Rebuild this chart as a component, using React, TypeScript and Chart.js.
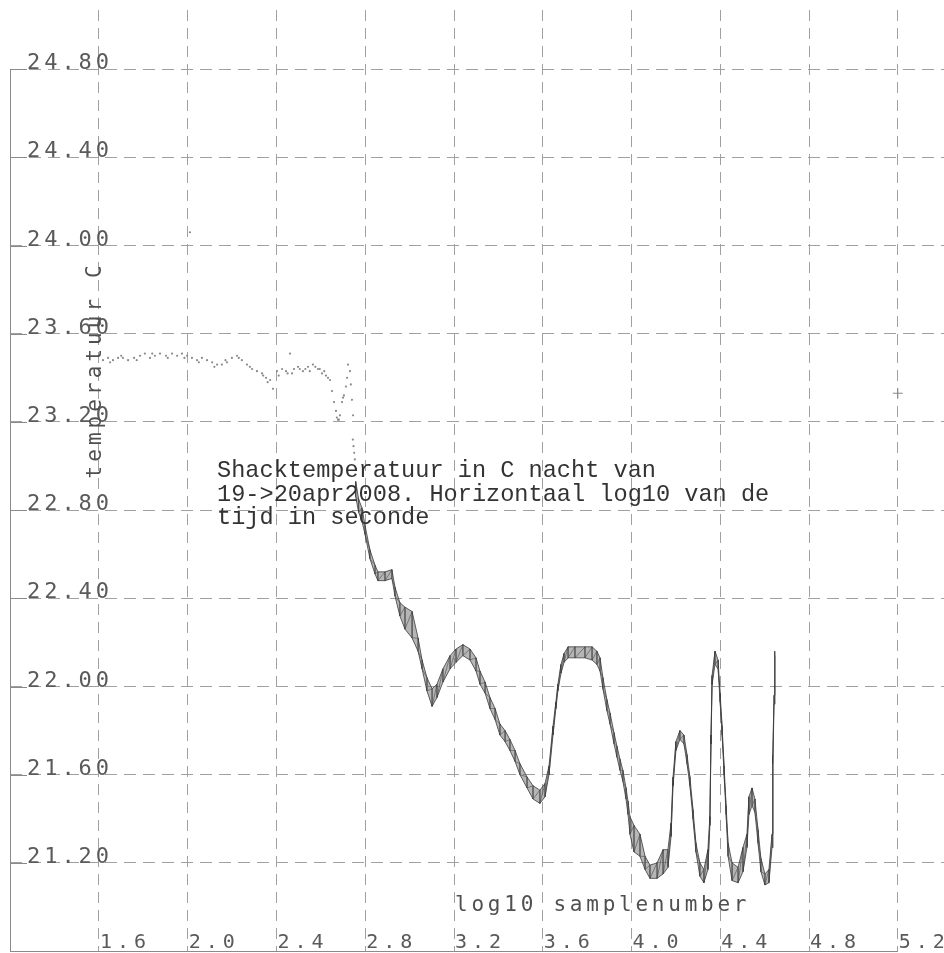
import React, { useEffect, useRef } from 'react';
import { Chart, registerables } from 'chart.js';

Chart.register(...registerables);

// ---- axis ticks ----
const xTickValues = [1.6, 2.0, 2.4, 2.8, 3.2, 3.6, 4.0, 4.4, 4.8, 5.2];
const xTickLabels = ['1.6', '2.0', '2.4', '2.8', '3.2', '3.6', '4.0', '4.4', '4.8', '5.2'];
const yTickValues = [21.2, 21.6, 22.0, 22.4, 22.8, 23.2, 23.6, 24.0, 24.4, 24.8];
const yTickLabels = ['21.20', '21.60', '22.00', '22.40', '22.80', '23.20', '23.60', '24.00', '24.40', '24.80'];

// ---- early, sparse samples (log10 sample number, temperature C) ----
const earlyLogN = [
  1.618, 1.641, 1.663, 1.686, 1.708, 1.731, 1.758, 1.785, 1.807, 1.830, 1.852, 1.875, 1.902, 1.929,
  1.952, 1.974, 1.997, 2.010, 2.019, 2.042, 2.064, 2.087, 2.110, 2.132, 2.154, 2.177, 2.199, 2.222,
  2.244, 2.267, 2.290, 2.312, 2.335, 2.353, 2.371, 2.384, 2.402, 2.425, 2.443, 2.461, 2.479, 2.497,
  2.519, 2.542, 2.564, 2.587, 2.605, 2.623, 2.641, 2.650, 2.659, 2.668, 2.677, 2.686, 2.695, 2.704,
  2.713, 2.722, 2.731, 2.740, 2.745,
  1.650, 1.700, 1.770, 1.840, 1.910, 1.985, 2.050, 2.120, 2.170, 2.230, 2.280, 2.340, 2.360, 2.410,
  2.450, 2.470, 2.505, 2.530, 2.550, 2.575, 2.595, 2.615, 2.632, 2.672, 2.681, 2.700, 2.718, 2.735,
  2.744, 2.747, 2.750, 2.753,
];
const earlyTemp = [
  23.48, 23.49, 23.48, 23.49, 23.49, 23.48, 23.49, 23.50, 23.51, 23.49, 23.50, 23.51, 23.50, 23.51,
  23.50, 23.51, 23.50, 24.06, 23.49, 23.48, 23.49, 23.48, 23.47, 23.46, 23.46, 23.47, 23.49, 23.50,
  23.48, 23.46, 23.44, 23.43, 23.42, 23.40, 23.39, 23.35, 23.43, 23.44, 23.43, 23.51, 23.44, 23.45,
  23.43, 23.45, 23.46, 23.44, 23.42, 23.41, 23.39, 23.34, 23.29, 23.25, 23.21, 23.23, 23.29, 23.32,
  23.36, 23.46, 23.43, 23.30, 23.23,
  23.47, 23.50, 23.48, 23.51, 23.49, 23.49, 23.47, 23.45, 23.48, 23.49, 23.45, 23.41, 23.38, 23.41,
  23.42, 23.42, 23.44, 23.44, 23.43, 23.45, 23.44, 23.43, 23.40, 23.22, 23.21, 23.31, 23.40, 23.37,
  23.12, 23.09, 23.06, 23.03,
];

// ---- dense samples: noise band, upper and lower edge ----
const bandLogN = [
  2.757, 2.770, 2.785, 2.799, 2.821, 2.844, 2.857, 2.889, 2.920, 2.934, 2.956, 2.979, 3.011, 3.038,
  3.056, 3.078, 3.101, 3.123, 3.150, 3.182, 3.209, 3.240, 3.272, 3.299, 3.317, 3.340, 3.362, 3.385,
  3.407, 3.430, 3.452, 3.475, 3.497, 3.529, 3.556, 3.587, 3.610, 3.628, 3.646, 3.659, 3.668, 3.682,
  3.696, 3.714, 3.745, 3.790, 3.822, 3.844, 3.858, 3.871, 3.889, 3.903, 3.921, 3.934, 3.948, 3.961,
  3.975, 3.984, 3.993, 4.011, 4.038, 4.061, 4.083, 4.115, 4.142, 4.164, 4.178, 4.187, 4.200, 4.218,
  4.236, 4.250, 4.263, 4.277, 4.290, 4.308, 4.326, 4.344, 4.353, 4.358, 4.363, 4.376, 4.390, 4.399,
  4.408, 4.417, 4.426, 4.435, 4.453, 4.480, 4.502, 4.520, 4.529, 4.543, 4.556, 4.570, 4.583, 4.601,
  4.619, 4.633, 4.637, 4.642, 4.646,
];
const bandHigh = [
  22.93, 22.85, 22.81, 22.73, 22.62, 22.55, 22.52, 22.52, 22.53, 22.45, 22.38, 22.36, 22.34, 22.22,
  22.12, 22.04, 21.99, 22.01, 22.08, 22.14, 22.17, 22.19, 22.17, 22.13, 22.07, 22.02, 21.95, 21.90,
  21.83, 21.80, 21.76, 21.71, 21.65, 21.59, 21.55, 21.53, 21.56, 21.64, 21.82, 21.93, 22.01, 22.10,
  22.15, 22.18, 22.18, 22.18, 22.18, 22.16, 22.13, 22.04, 21.94, 21.88, 21.79, 21.73, 21.67, 21.62,
  21.54, 21.48, 21.41, 21.37, 21.33, 21.23, 21.19, 21.20, 21.26, 21.26, 21.38, 21.59, 21.75, 21.80,
  21.78, 21.69, 21.59, 21.44, 21.29, 21.20, 21.17, 21.26, 21.41, 21.78, 22.05, 22.16, 22.12, 21.97,
  21.82, 21.64, 21.46, 21.29, 21.20, 21.18, 21.27, 21.33, 21.50, 21.54, 21.49, 21.35, 21.22, 21.15,
  21.17, 21.33, 21.69, 21.96, 22.16,
];
const bandLow = [
  22.86, 22.79, 22.75, 22.69, 22.58, 22.51, 22.48, 22.48, 22.49, 22.41, 22.32, 22.26, 22.22, 22.16,
  22.08, 21.98, 21.91, 21.95, 22.02, 22.08, 22.11, 22.14, 22.12, 22.07, 22.01, 21.97, 21.90, 21.85,
  21.78, 21.75, 21.71, 21.66, 21.60, 21.54, 21.49, 21.47, 21.50, 21.60, 21.78, 21.90, 21.98, 22.06,
  22.11, 22.13, 22.13, 22.13, 22.12, 22.10, 22.07, 21.99, 21.89, 21.83, 21.74, 21.68, 21.62, 21.57,
  21.49, 21.42, 21.33, 21.25, 21.23, 21.17, 21.13, 21.13, 21.15, 21.18, 21.32, 21.55, 21.71, 21.76,
  21.74, 21.65, 21.55, 21.40, 21.25, 21.14, 21.11, 21.17, 21.37, 21.74, 22.01, 22.10, 22.08, 21.93,
  21.78, 21.60, 21.42, 21.23, 21.12, 21.11, 21.16, 21.27, 21.42, 21.46, 21.43, 21.29, 21.16, 21.10,
  21.11, 21.27, 21.65, 21.92, 22.14,
];

// ---- single cross marker at the right ----
const markerLogN = [5.2];
const markerTemp = [23.33];

// ---- texts ----
const annotationLines = [
  'Shacktemperatuur in C nacht van',
  '19->20apr2008. Horizontaal log10 van de',
  'tijd in seconde',
];
const xAxisTitle = 'log10 samplenumber';
const yAxisTitle = 'temperatuur C';

const X_MIN = 1.199;
const X_MAX = 5.408;
const Y_MIN = 20.796;
const Y_MAX = 25.068;

function drawSpaced(ctx: CanvasRenderingContext2D, text: string, x: number, y: number, advance: number) {
  for (let i = 0; i < text.length; i++) {
    ctx.fillText(text[i], x + i * advance, y);
  }
}

export default function App() {
  const ref = useRef<HTMLCanvasElement>(null);

  useEffect(() => {
    const canvas = ref.current;
    if (!canvas) return;

    const early = earlyLogN.map((x, i) => ({ x, y: earlyTemp[i] }));
    const high = bandLogN.map((x, i) => ({ x, y: bandHigh[i] }));
    const low = bandLogN.map((x, i) => ({ x, y: bandLow[i] }));
    const zig: { x: number; y: number }[] = [];
    bandLogN.forEach((x, i) => {
      zig.push({ x, y: bandHigh[i] });
      zig.push({ x, y: bandLow[i] });
    });
    const marker = markerLogN.map((x, i) => ({ x, y: markerTemp[i] }));

    const overlay = {
      id: 'overlay',
      afterDraw(chart: any) {
        const ctx: CanvasRenderingContext2D = chart.ctx;
        const area = chart.chartArea;
        const xs = chart.scales.x;
        const ys = chart.scales.y;
        ctx.save();

        // axis lines
        ctx.strokeStyle = '#8a8a8a';
        ctx.lineWidth = 1;
        ctx.setLineDash([]);
        const yTop = ys.getPixelForValue(yTickValues[yTickValues.length - 1]);
        ctx.beginPath();
        ctx.moveTo(area.left + 0.5, Math.round(yTop) + 0.5);
        ctx.lineTo(area.left + 0.5, area.bottom);
        ctx.stroke();
        ctx.beginPath();
        ctx.moveTo(area.left, area.bottom - 0.5);
        ctx.lineTo(xs.getPixelForValue(xTickValues[xTickValues.length - 1]), area.bottom - 0.5);
        ctx.stroke();

        // y tick marks + labels
        ctx.fillStyle = '#5a5a5a';
        ctx.font = '22px "DejaVu Sans Mono"';
        ctx.textAlign = 'left';
        ctx.textBaseline = 'alphabetic';
        yTickValues.forEach((v, i) => {
          const py = Math.round(ys.getPixelForValue(v)) + 0.5;
          ctx.beginPath();
          ctx.moveTo(area.left, py);
          ctx.lineTo(area.left + 17, py);
          ctx.stroke();
          drawSpaced(ctx, yTickLabels[i], area.left + 17, py - 1, 17.2);
        });

        // x tick labels
        ctx.font = '20px "DejaVu Sans Mono"';
        xTickValues.forEach((v, i) => {
          const px = xs.getPixelForValue(v);
          drawSpaced(ctx, xTickLabels[i], px + 1, area.bottom - 4, 17);
        });

        // axis titles
        ctx.fillStyle = '#505050';
        ctx.font = '21px "DejaVu Sans Mono"';
        drawSpaced(ctx, xAxisTitle, xs.getPixelForValue(3.2) + 1, area.bottom - 41, 16.4);

        ctx.save();
        const yAdv = 16.7;
        const span = (yAxisTitle.length - 1) * yAdv + 12.6;
        ctx.translate(96, 372);
        ctx.rotate(-Math.PI / 2);
        ctx.textBaseline = 'middle';
        drawSpaced(ctx, yAxisTitle, -span / 2, 0, yAdv);
        ctx.restore();

        // annotation text
        ctx.fillStyle = '#333';
        ctx.font = '23.6px "Liberation Mono"';
        ctx.textBaseline = 'alphabetic';
        const ax = xs.getPixelForValue(2.132);
        annotationLines.forEach((line, i) => {
          ctx.fillText(line, ax, 477 + i * 23.5);
        });

        ctx.restore();
      },
    };

    const chart = new Chart(canvas, {
      type: 'line',
      data: {
        datasets: [
          {
            label: 'early',
            data: early,
            showLine: false,
            pointRadius: 1.1,
            pointBackgroundColor: '#8a8a8a',
            pointBorderWidth: 0,
          },
          {
            label: 'high',
            data: high,
            borderColor: 'rgba(60,60,60,0.8)',
            borderWidth: 1,
            pointRadius: 0,
            tension: 0,
            fill: false,
          },
          {
            label: 'low',
            data: low,
            borderColor: 'rgba(60,60,60,0.8)',
            backgroundColor: 'rgba(110,110,110,0.5)',
            borderWidth: 1,
            pointRadius: 0,
            tension: 0,
            fill: '-1',
          },
          {
            label: 'noise',
            data: zig,
            borderColor: 'rgba(40,40,40,0.6)',
            borderWidth: 1,
            pointRadius: 0,
            tension: 0,
            fill: false,
          },
          {
            label: 'marker',
            data: marker,
            showLine: false,
            pointStyle: 'cross',
            pointRadius: 5,
            pointBorderColor: '#8a8a8a',
            pointBorderWidth: 1,
          },
        ],
      },
      options: {
        animation: false,
        responsive: false,
        events: [],
        layout: { autoPadding: false, padding: { left: 10, top: 10, right: 0, bottom: 1 } },
        plugins: {
          legend: { display: false },
          tooltip: { enabled: false },
        },
        scales: {
          x: {
            type: 'linear',
            min: X_MIN,
            max: X_MAX,
            afterBuildTicks: (scale: any) => {
              scale.ticks = xTickValues.map((value) => ({ value }));
            },
            ticks: { display: false },
            grid: { color: '#a0a0a0', lineWidth: 1, drawTicks: false },
            border: { display: false, dash: [11, 7] },
          },
          y: {
            type: 'linear',
            min: Y_MIN,
            max: Y_MAX,
            afterBuildTicks: (scale: any) => {
              scale.ticks = yTickValues.map((value) => ({ value }));
            },
            ticks: { display: false },
            grid: { color: '#a0a0a0', lineWidth: 1, drawTicks: false },
            border: { display: false, dash: [12, 7] },
          },
        },
      },
      plugins: [overlay],
    });

    return () => chart.destroy();
  }, []);

  return (
    <div style={{ position: 'absolute', left: 0, top: 0, width: 944, height: 953, background: '#fff' }}>
      <canvas ref={ref} width={944} height={953} style={{ display: 'block' }} />
    </div>
  );
}
